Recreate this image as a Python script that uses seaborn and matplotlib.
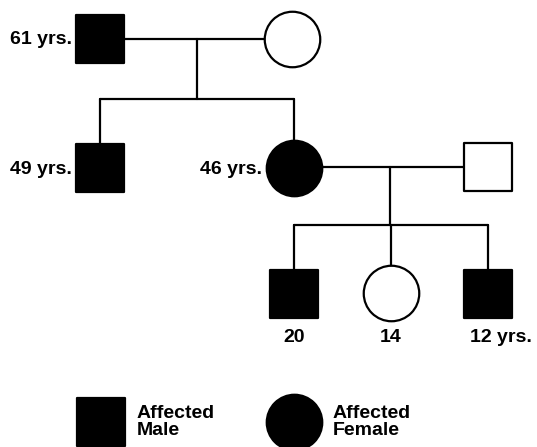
import matplotlib
matplotlib.use('Agg')
import matplotlib.pyplot as plt
import seaborn as sns
import pandas as pd

# pedigree members
names = ['I-1', 'I-2', 'II-1', 'II-2', 'II-3', 'III-1', 'III-2', 'III-3']
sex = ['M', 'F', 'M', 'F', 'M', 'M', 'F', 'M']
affected = [True, False, True, True, False, True, False, True]
ages = ['61 yrs.', '', '49 yrs.', '46 yrs.', '', '20', '14', '12 yrs.']
# layout positions (pixels of the original drawing)
xpos = [100, 292, 100, 293.5, 487.5, 294, 391, 488]
ypos = [38.5, 38.5, 168, 168, 166.5, 293.5, 292.5, 293.5]

# matings: (partner a, partner b, drop x, sibship y, children)
matings = [('I-1', 'I-2', 196.5, 98.5, ['II-1', 'II-2']),
           ('II-2', 'II-3', 390, 225, ['III-1', 'III-2', 'III-3'])]

legend_labels = ['Affected\nMale', 'Affected\nFemale']

df = pd.DataFrame({'name': names, 'sex': sex, 'affected': affected,
                   'age': ages, 'x': xpos, 'y': ypos})
pos = {n: (x, y) for n, x, y in zip(names, xpos, ypos)}

sns.set_theme(style='white')
plt.rcParams['font.family'] = ['Liberation Sans', 'DejaVu Sans']

fig = plt.figure(figsize=(5.37, 4.47), dpi=100)
ax = fig.add_axes([0, 0, 1, 1])
ax.axis('off')

lw = 1.6
for a, b, xm, ysib, kids in matings:
    (xa, ya), (xb, yb) = pos[a], pos[b]
    ym = (ya + yb) / 2
    ax.plot([xa, xb], [ym, ym], color='black', lw=lw, zorder=1)
    ax.plot([xm, xm], [ym, ysib], color='black', lw=lw, zorder=1)
    kx = [pos[k][0] for k in kids]
    ax.plot([min(kx), max(kx)], [ysib, ysib], color='black', lw=lw, zorder=1)
    for k in kids:
        kx0, ky0 = pos[k]
        ax.plot([kx0, kx0], [ysib, ky0], color='black', lw=lw, zorder=1)

px2pt = 72 / 100
sq = (48.5 * px2pt) ** 2
ci = (55.5 * px2pt) ** 2
for s, mk, size in [('M', 's', sq), ('F', 'o', ci)]:
    for aff in [True, False]:
        sub = df[(df.sex == s) & (df.affected == aff)]
        if len(sub) == 0:
            continue
        sns.scatterplot(data=sub, x='x', y='y', marker=mk, s=size,
                        color='black' if aff else 'white', edgecolor='black',
                        linewidth=1.6, ax=ax, zorder=3, legend=False)

fs = 14
tk = dict(fontsize=fs, fontweight='bold', color='black')
for _, r in df.iterrows():
    if not r.age:
        continue
    if r['name'].startswith('III'):
        if r.age.endswith('yrs.'):
            ax.text(r.x - 18, 338, r.age, ha='left', va='center', **tk)
        else:
            ax.text(r.x, 338, r.age, ha='center', va='center', **tk)
    else:
        off = 28 if r.sex == 'M' else 32
        ax.text(r.x - off, r.y + 1, r.age, ha='right', va='center', **tk)

# legend drawn as symbols
leg = pd.DataFrame({'x': [101, 294], 'y': [422, 422]})
sns.scatterplot(data=leg.iloc[[0]], x='x', y='y', marker='s', s=sq,
                color='black', edgecolor='black', linewidth=1.6, ax=ax,
                legend=False)
sns.scatterplot(data=leg.iloc[[1]], x='x', y='y', marker='o', s=ci,
                color='black', edgecolor='black', linewidth=1.6, ax=ax,
                legend=False)
ax.text(137, 422, legend_labels[0], ha='left', va='center',
        linespacing=0.95, **tk)
ax.text(333, 422, legend_labels[1], ha='left', va='center',
        linespacing=0.95, **tk)

ax.set_xlim(0, 537)
ax.set_ylim(447, 0)
fig.savefig('out.png', dpi=100)
